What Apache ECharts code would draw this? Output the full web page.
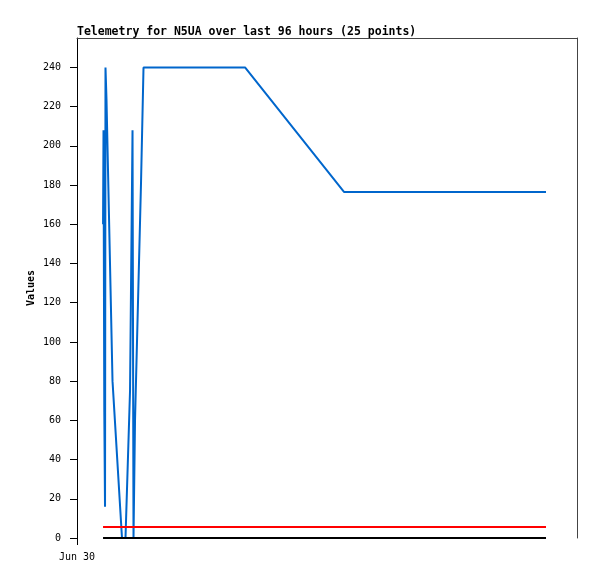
<!DOCTYPE html>
<html>
<head>
<meta charset="utf-8">
<script src="https://cdn.jsdelivr.net/npm/echarts@6/dist/echarts.min.js"></script>
<style>
    html, body { margin: 0; padding: 0; background: #fff; }
    #chart { width: 597px; height: 579px; }
</style>
</head>
<body>
<div id="chart"></div>
<script>
// hours since Jun 30 00:00
var hours = [5.0, 5.09, 5.24, 5.38, 5.47, 5.66, 6.82, 8.64, 9.31, 10.18, 10.66, 10.85, 11.14, 12.29, 12.77, 32.26, 51.26, 90.05];
var blueValues = [160, 208, 65, 16, 240, 224, 80, 0, 0, 75, 208, 0, 60, 181, 240, 240, 176.5, 176.5];
var redValues = [5.6, 5.6, 5.6, 5.6, 5.6, 5.6, 5.6, 5.6, 5.6, 5.6, 5.6, 5.6, 5.6, 5.6, 5.6, 5.6, 5.6, 5.6];
var blackValues = [0, 0, 0, 0, 0, 0, 0, 0, 0, 0, 0, 0, 0, 0, 0, 0, 0, 0];
var yTicks = [0, 20, 40, 60, 80, 100, 120, 140, 160, 180, 200, 220, 240];
var xTicks = [0];
var xTickLabels = ['Jun 30'];

function pairs(vals) {
    return hours.map(function (h, i) { return [h, vals[i]]; });
}

var font = '"DejaVu Sans Mono", monospace';
var chart = echarts.init(document.getElementById('chart'), null, {renderer: 'canvas'});
chart.setOption({
    animation: false,
    title: {
        text: 'Telemetry for N5UA over last 96 hours (25 points)',
        left: 77,
        top: 26,
        padding: 0,
        textStyle: {fontFamily: font, fontWeight: 'bold', fontSize: 11.5, color: '#000'}
    },
    grid: {left: 77, top: 38, right: 20, bottom: 41},
    xAxis: [
        {
            type: 'value',
            min: 0,
            max: 96,
            axisLine: {show: false},
            axisTick: {show: true, length: 7, customValues: xTicks, lineStyle: {color: '#000'}},
            axisLabel: {
                customValues: xTicks,
                margin: 14,
                fontFamily: font,
                fontSize: 10,
                color: '#000',
                formatter: function (v) { return xTickLabels[xTicks.indexOf(v)] || ''; }
            },
            splitLine: {show: false}
        },
        {
            type: 'value',
            position: 'top',
            min: 0,
            max: 96,
            axisLine: {show: true, onZero: false, lineStyle: {color: '#444'}},
            axisTick: {show: false},
            axisLabel: {show: false},
            splitLine: {show: false}
        }
    ],
    yAxis: [
        {
            type: 'value',
            min: 0,
            max: 255,
            name: 'Values',
            nameLocation: 'middle',
            nameGap: 41,
            nameMoveOverlap: false,
            nameTextStyle: {fontFamily: font, fontWeight: 'bold', fontSize: 10, color: '#000'},
            axisLine: {show: true, onZero: false, lineStyle: {color: '#000'}},
            axisTick: {show: true, length: 7, customValues: yTicks, lineStyle: {color: '#000'}},
            axisLabel: {customValues: yTicks, margin: 16, fontFamily: font, fontSize: 10, color: '#000'},
            splitLine: {show: false}
        },
        {
            type: 'value',
            position: 'right',
            min: 0,
            max: 255,
            axisLine: {show: true, onZero: false, lineStyle: {color: '#444'}},
            axisTick: {show: false},
            axisLabel: {show: false},
            splitLine: {show: false}
        }
    ],
    series: [
        {
            name: 'blue',
            type: 'line',
            data: pairs(blueValues),
            showSymbol: false,
            lineStyle: {color: '#0066cc', width: 2},
            itemStyle: {color: '#0066cc'}
        },
        {
            name: 'red',
            type: 'line',
            data: pairs(redValues),
            showSymbol: false,
            lineStyle: {color: '#ff0000', width: 2},
            itemStyle: {color: '#ff0000'}
        },
        {
            name: 'black',
            type: 'line',
            data: pairs(blackValues),
            showSymbol: false,
            lineStyle: {color: '#000', width: 2},
            itemStyle: {color: '#000'}
        }
    ]
});
</script>
</body>
</html>
